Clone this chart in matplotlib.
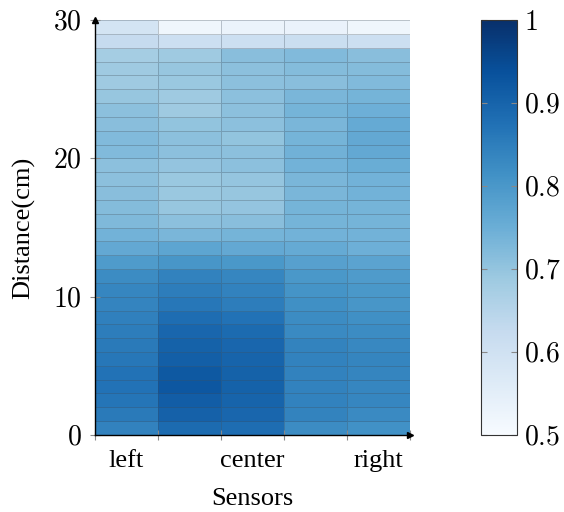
import numpy as np
import matplotlib
matplotlib.use("Agg")
import matplotlib.pyplot as plt

plt.rcParams["font.family"] = ["Liberation Serif", "DejaVu Serif"]
plt.rcParams["mathtext.fontset"] = "cm"

# valores por sensor, fila 0 (0-1 cm) hasta fila 29 (29-30 cm)
sensores = ["left", "center", "right"]
sensor_pos = [0.5, 2.5, 4.5]

col_left = [0.843, 0.858, 0.866, 0.872, 0.872, 0.862, 0.858, 0.853, 0.847, 0.838,
            0.834, 0.824, 0.792, 0.763, 0.741, 0.725, 0.719, 0.714, 0.710, 0.710,
            0.723, 0.723, 0.714, 0.710, 0.696, 0.687, 0.687, 0.677, 0.625, 0.590]
col_left_center = [0.885, 0.906, 0.914, 0.924, 0.920, 0.910, 0.904, 0.895, 0.881, 0.862,
                   0.853, 0.843, 0.804, 0.770, 0.732, 0.710, 0.696, 0.692, 0.692, 0.701,
                   0.710, 0.710, 0.703, 0.687, 0.687, 0.692, 0.696, 0.687, 0.610, 0.520]
col_center = [0.881, 0.895, 0.900, 0.904, 0.904, 0.900, 0.895, 0.885, 0.872, 0.853,
              0.843, 0.834, 0.799, 0.763, 0.737, 0.714, 0.701, 0.696, 0.699, 0.710,
              0.710, 0.703, 0.710, 0.710, 0.710, 0.710, 0.710, 0.714, 0.610, 0.530]
col_right_center = [0.824, 0.840, 0.843, 0.843, 0.843, 0.843, 0.840, 0.828, 0.824, 0.815,
                    0.808, 0.799, 0.781, 0.759, 0.741, 0.737, 0.737, 0.732, 0.732, 0.741,
                    0.743, 0.737, 0.732, 0.737, 0.732, 0.714, 0.719, 0.723, 0.615, 0.535]
col_right = [0.8125, 0.828, 0.834, 0.834, 0.836, 0.836, 0.832, 0.824, 0.815, 0.804,
             0.799, 0.792, 0.775, 0.748, 0.741, 0.737, 0.737, 0.741, 0.741, 0.752,
             0.763, 0.763, 0.759, 0.748, 0.737, 0.723, 0.719, 0.714, 0.610, 0.520]

valores = np.array([col_left, col_left_center, col_center,
                    col_right_center, col_right]).T
x_bordes = np.arange(valores.shape[1] + 1)
y_bordes = np.arange(valores.shape[0] + 1)

fig = plt.figure(figsize=(5.64, 5.12), dpi=100)
ax = fig.add_axes([0.1684, 0.1504, 0.5585, 0.8105])
cax = fig.add_axes([0.853, 0.1504, 0.0638, 0.8105])

malla = ax.pcolormesh(x_bordes, y_bordes, valores, cmap="Blues", vmin=0.5, vmax=1.0,
                      edgecolors=(0.25, 0.3, 0.35, 0.3), linewidth=0.6)

ax.set_xlim(0, 5)
ax.set_ylim(0, 30)
for lado in ["top", "right"]:
    ax.spines[lado].set_visible(False)
for lado in ["left", "bottom"]:
    ax.spines[lado].set_color("black")
    ax.spines[lado].set_linewidth(1.0)
ax.plot(1, 0, ">k", ms=5, transform=ax.get_yaxis_transform(), clip_on=False)
ax.plot(0, 1, "^k", ms=5, transform=ax.get_xaxis_transform(), clip_on=False)

ax.set_xticks(x_bordes)
ax.set_xticklabels([])
ax.set_xticks(sensor_pos, minor=True)
ax.set_xticklabels(sensores, minor=True, fontsize=19)
ax.tick_params(axis="x", which="minor", length=0, pad=11)
ax.tick_params(axis="x", which="major", direction="inout", length=7,
               color="#888888", width=0.8)

yt = [0, 10, 20, 30]
ax.set_yticks(yt)
ax.set_yticklabels([f"${v}$" for v in yt], fontsize=20)
ax.tick_params(axis="y", direction="inout", length=7, color="#888888", width=0.8, pad=6)

ax.set_xlabel("Sensors", fontsize=19, labelpad=11)
ax.set_ylabel("Distance(cm)", fontsize=19, labelpad=13)

cb = fig.colorbar(malla, cax=cax)
cb.outline.set_edgecolor("#333333")
cb.outline.set_linewidth(0.8)
ct = [0.5, 0.6, 0.7, 0.8, 0.9, 1.0]
cb.set_ticks(ct)
cb.set_ticklabels([f"${v:g}$" for v in ct])
cax.tick_params(direction="in", length=4, color="#888888", width=0.8,
                left=True, right=True, labelsize=20, pad=5)

fig.savefig("out.png", dpi=100)
